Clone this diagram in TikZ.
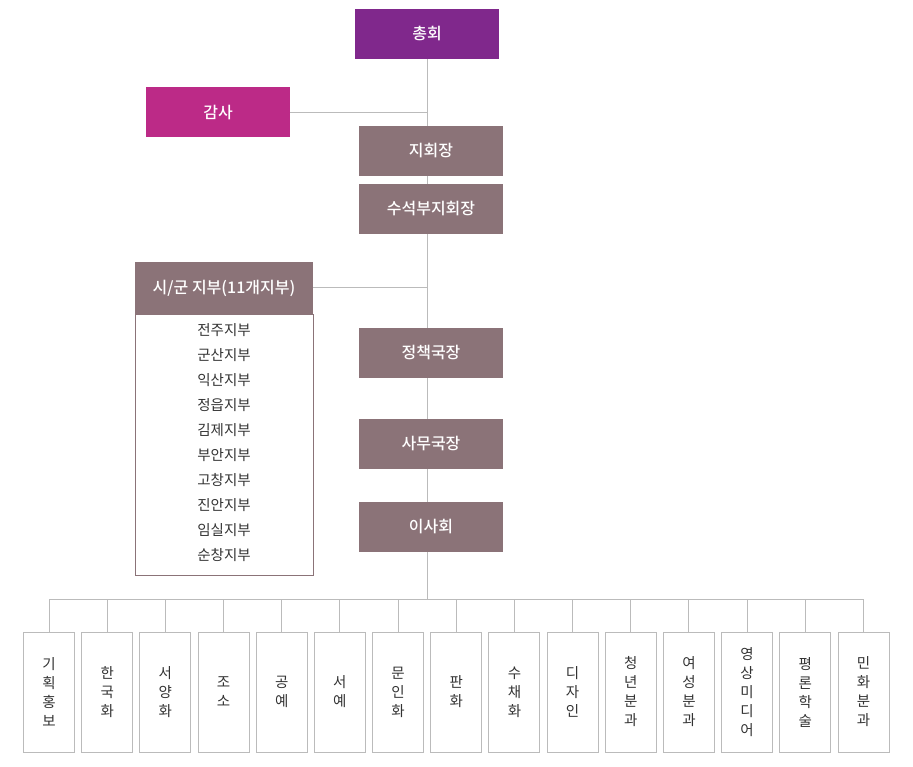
\documentclass[tikz,border=0pt]{standalone}
\usepackage{fontspec}
\setmainfont{Noto Sans CJK KR}[BoldFont={Noto Sans CJK KR Medium}]
\usetikzlibrary{backgrounds}
\definecolor{cPurple}{HTML}{80288C}
\definecolor{cMagenta}{HTML}{BC2A87}
\definecolor{cMauve}{HTML}{8B7378}
\definecolor{cLine}{HTML}{BBBBBB}
\definecolor{cText}{HTML}{333333}
\tikzset{
  topbox/.style={minimum width=144pt, minimum height=50pt, inner sep=0pt, text=white, font=\fontsize{16}{19}\selectfont\bfseries},
  subbox/.style={draw=cLine, line width=1pt, fill=white, minimum width=51pt, minimum height=120pt, inner sep=0pt, align=center, text=cText, font=\fontsize{14.5}{19}\selectfont},
  conn/.style={draw=cLine, line width=1pt},
  listitem/.style={text=cText, font=\fontsize{14.5}{17}\selectfont, inner sep=0pt}
}
\begin{document}
\begin{tikzpicture}[x=1pt,y=-1pt]
\useasboundingbox (0,0) rectangle (913,767);
% top boxes
\node[topbox, fill=cPurple] (chonghoe) at (427,34) {총회};
\node[topbox, fill=cMagenta] (gamsa) at (218,112.5) {감사};
\node[topbox, fill=cMauve] (jihoejang) at (431,151) {지회장};
\node[topbox, fill=cMauve] (suseok) at (431,209) {수석부지회장};
\node[topbox, fill=cMauve] (jeongchaek) at (431,353) {정책국장};
\node[topbox, fill=cMauve] (samu) at (431,444) {사무국장};
\node[topbox, fill=cMauve] (isahoe) at (431,527) {이사회};
% branch box
\node[topbox, fill=cMauve, minimum width=178pt, minimum height=52pt] (sigun) at (224,288) {시/군 지부(11개지부)};
\node[draw=cMauve, line width=1pt, minimum width=178pt, minimum height=261pt, inner sep=0pt, anchor=north] (sigunbody) at (sigun.south) {};
\foreach \t [count=\i] in {전주지부,군산지부,익산지부,정읍지부,김제지부,부안지부,고창지부,진안지부,임실지부,순창지부}
  \node[listitem] (li\i) at (224,{330+25*(\i-1)}) {\t};
% bottom boxes
\coordinate (bus) at (427,599);
\foreach \t [count=\i] in {기\\획\\홍\\보,한\\국\\화,서\\양\\화,조\\소,공\\예,서\\예,문\\인\\화,판\\화,수\\채\\화,디\\자\\인,청\\년\\분\\과,여\\성\\분\\과,영\\상\\미\\디\\어,평\\론\\학\\술,민\\화\\분\\과}
  \node[subbox] (b\i) at ({49+58.18*(\i-1)},692) {\t};
% connectors
\begin{scope}[on background layer]
\draw[conn] (chonghoe.south) -- (bus);
\draw[conn] (gamsa.east) -- (gamsa.east -| chonghoe.south);
\draw[conn] (sigun.east) -- (sigun.east -| chonghoe.south);
\draw[conn] (b1.north |- bus) -- (b15.north |- bus);
\foreach \i in {1,...,15}
  \draw[conn] (b\i.north) -- (b\i.north |- bus);
\end{scope}
\end{tikzpicture}
\end{document}
